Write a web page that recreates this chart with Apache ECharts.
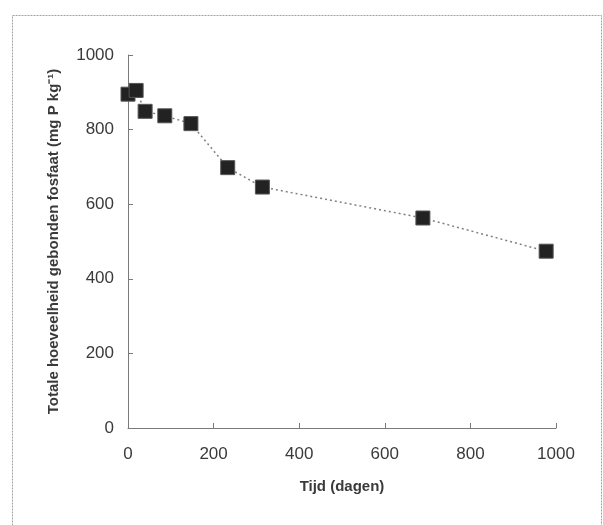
<!DOCTYPE html>
<html>
<head>
<meta charset="utf-8">
<script src="https://cdn.jsdelivr.net/npm/echarts@6/dist/echarts.min.js"></script>
<style>
  html, body { margin: 0; padding: 0; background: #fff; }
</style>
</head>
<body>
<div id="chart" style="width: 603px; height: 525px;"></div>
<script>
// tijd in dagen, totale hoeveelheid gebonden fosfaat (mg P/kg)
const days = [0, 19, 40, 86, 147, 233, 314, 689, 977];
const bound = [895, 905, 849, 837, 816, 698, 646, 563, 474];
const xTicks = [0, 200, 400, 600, 800, 1000];
const yTicks = [0, 200, 400, 600, 800, 1000];

const myChart = echarts.init(document.getElementById('chart'));

const axisGray = '#7a7a7a';
const labelColor = '#3a3a3a';

const option = {
  animation: false,
  backgroundColor: '#fff',
  graphic: [
    {
      type: 'rect',
      left: 10,
      top: 13,
      shape: { width: 589, height: 530 },
      style: { fill: 'none', stroke: '#a0a0a0', lineWidth: 1, lineDash: [2, 1] },
      silent: true
    }
  ],
  grid: {
    left: 128,
    right: 47,
    top: 55,
    bottom: 97
  },
  xAxis: {
    type: 'value',
    min: xTicks[0],
    max: xTicks[xTicks.length - 1],
    interval: 200,
    name: 'Tijd (dagen)',
    nameLocation: 'middle',
    nameGap: 51,
    nameTextStyle: {
      fontFamily: 'Liberation Sans Narrow, Liberation Sans, Arial',
      fontWeight: 'bold',
      fontSize: 15,
      color: labelColor
    },
    axisLine: { lineStyle: { color: axisGray, width: 1 } },
    axisTick: { inside: true, length: 5, lineStyle: { color: axisGray } },
    axisLabel: {
      margin: 18,
      fontFamily: 'Liberation Sans, Arial',
      fontSize: 17,
      color: labelColor,
      formatter: v => String(v)
    },
    splitLine: { show: false }
  },
  yAxis: {
    type: 'value',
    min: yTicks[0],
    max: yTicks[yTicks.length - 1],
    interval: 200,
    name: 'Totale hoeveelheid gebonden fosfaat (mg P kg\u207B\u00B9)',
    nameLocation: 'middle',
    nameGap: 67,
    nameTextStyle: {
      fontFamily: 'Liberation Sans Narrow, Liberation Sans, Arial',
      fontWeight: 'bold',
      fontSize: 15,
      color: labelColor
    },
    axisLine: { show: true, lineStyle: { color: axisGray, width: 1 } },
    axisTick: { show: true, inside: true, length: 5, lineStyle: { color: axisGray } },
    axisLabel: {
      margin: 14,
      fontFamily: 'Liberation Sans, Arial',
      fontSize: 17,
      color: labelColor,
      formatter: v => String(v)
    },
    splitLine: { show: false }
  },
  series: [
    {
      type: 'line',
      data: days.map((d, i) => [d, bound[i]]),
      clip: false,
      symbol: 'rect',
      symbolSize: 14,
      itemStyle: { color: '#222', borderColor: '#555', borderWidth: 1 },
      lineStyle: { color: '#808080', width: 1.5, type: [2, 3] }
    }
  ]
};

myChart.setOption(option);
</script>
</body>
</html>
